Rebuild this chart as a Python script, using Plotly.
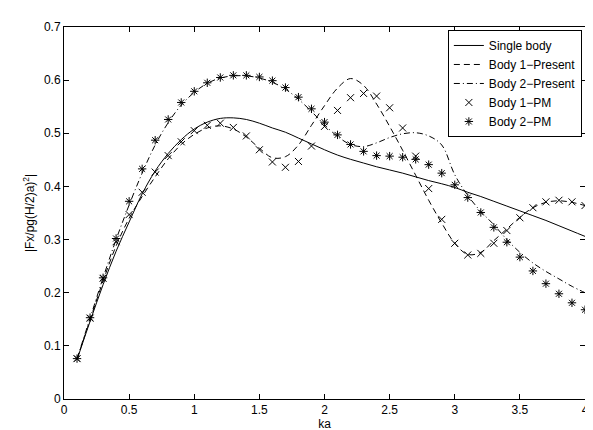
import plotly.graph_objects as go

ka = [0.1, 0.2, 0.3, 0.4, 0.5, 0.6, 0.7, 0.8, 0.9, 1.0,
      1.1, 1.2, 1.3, 1.4, 1.5, 1.6, 1.7, 1.8, 1.9, 2.0,
      2.1, 2.2, 2.3, 2.4, 2.5, 2.6, 2.7, 2.8, 2.9, 3.0,
      3.1, 3.2, 3.3, 3.4, 3.5, 3.6, 3.7, 3.8, 3.9, 4.0]

single_body = [0.074, 0.146, 0.215, 0.278, 0.333, 0.386, 0.429, 0.462, 0.488, 0.508,
               0.521, 0.528, 0.529, 0.526, 0.519, 0.510, 0.502, 0.491, 0.480, 0.469,
               0.459, 0.451, 0.444, 0.437, 0.431, 0.425, 0.418, 0.411, 0.405, 0.398,
               0.389, 0.381, 0.372, 0.363, 0.354, 0.345, 0.336, 0.326, 0.316, 0.306]

body1_present = [0.075, 0.149, 0.222, 0.288, 0.340, 0.381, 0.418, 0.452, 0.479, 0.498,
                 0.510, 0.514, 0.508, 0.493, 0.472, 0.454, 0.456, 0.478, 0.515, 0.552,
                 0.585, 0.603, 0.590, 0.555, 0.513, 0.468, 0.421, 0.374, 0.331, 0.293,
                 0.272, 0.276, 0.298, 0.320, 0.342, 0.360, 0.370, 0.373, 0.370, 0.364]

body2_present = [0.076, 0.152, 0.228, 0.300, 0.365, 0.425, 0.478, 0.520, 0.553, 0.577,
                 0.594, 0.604, 0.608, 0.608, 0.604, 0.596, 0.583, 0.564, 0.541, 0.516,
                 0.494, 0.479, 0.475, 0.482, 0.492, 0.499, 0.501, 0.495, 0.478, 0.422,
                 0.383, 0.353, 0.328, 0.300, 0.276, 0.256, 0.240, 0.226, 0.212, 0.200]

body1_pm = [0.076, 0.152, 0.227, 0.296, 0.347, 0.389, 0.427, 0.458, 0.484, 0.505,
            0.515, 0.519, 0.511, 0.495, 0.469, 0.446, 0.436, 0.447, 0.476, 0.513,
            0.543, 0.567, 0.575, 0.570, 0.548, 0.510, 0.457, 0.396, 0.338, 0.293,
            0.271, 0.274, 0.293, 0.317, 0.341, 0.360, 0.371, 0.374, 0.371, 0.364]

body2_pm = [0.076, 0.153, 0.228, 0.302, 0.372, 0.433, 0.487, 0.526, 0.558, 0.579,
            0.595, 0.605, 0.609, 0.609, 0.606, 0.599, 0.586, 0.568, 0.546, 0.521,
            0.497, 0.479, 0.466, 0.458, 0.457, 0.455, 0.451, 0.441, 0.425, 0.403,
            0.379, 0.351, 0.323, 0.295, 0.267, 0.241, 0.217, 0.198, 0.181, 0.168]

x_ticks = [0, 0.5, 1, 1.5, 2, 2.5, 3, 3.5, 4]
x_tick_labels = ["0", "0.5", "1", "1.5", "2", "2.5", "3", "3.5", "4"]
y_ticks = [0, 0.1, 0.2, 0.3, 0.4, 0.5, 0.6, 0.7]
y_tick_labels = ["0", "0.1", "0.2", "0.3", "0.4", "0.5", "0.6", "0.7"]

FONT = "Liberation Sans, Arial, Helvetica, sans-serif"
FS = 12

fig = go.Figure()
fig.add_trace(go.Scatter(x=ka, y=single_body, mode="lines", name="Single body",
                         line=dict(color="black", width=1, shape="spline")))
fig.add_trace(go.Scatter(x=ka, y=body1_present, mode="lines", name="Body 1\u2212Present",
                         line=dict(color="black", width=1, dash="6px,4px", shape="spline")))
fig.add_trace(go.Scatter(x=ka, y=body2_present, mode="lines", name="Body 2\u2212Present",
                         line=dict(color="black", width=1, dash="6px,3px,1px,3px", shape="spline")))
fig.add_trace(go.Scatter(x=ka, y=body1_pm, mode="markers", name="Body 1\u2212PM",
                         marker=dict(symbol="x-thin-open", size=7, color="black",
                                     line=dict(color="black", width=1))))
fig.add_trace(go.Scatter(x=ka, y=body2_pm, mode="markers", name="Body 2\u2212PM",
                         marker=dict(symbol="asterisk-open", size=7, color="black",
                                     line=dict(color="black", width=1))))

axis_common = dict(showline=True, linecolor="black", linewidth=1, mirror="ticks",
                   ticks="inside", ticklen=5, tickcolor="black", showgrid=False,
                   zeroline=False, tickfont=dict(family=FONT, size=FS, color="black"))

fig.update_xaxes(range=[0, 4], tickvals=x_ticks, ticktext=x_tick_labels,
                 title=dict(text="ka", font=dict(family=FONT, size=FS, color="black"), standoff=0),
                 **axis_common)
fig.update_yaxes(range=[0, 0.7], tickvals=y_ticks, ticktext=y_tick_labels,
                 title=dict(text="|Fx/pg(H/2)a)<sup>2</sup>|", font=dict(family=FONT, size=FS, color="black"),
                            standoff=6),
                 **axis_common)

fig.update_layout(
    width=593, height=430,
    margin=dict(l=56, r=14, t=12, b=36),
    paper_bgcolor="white", plot_bgcolor="white",
    font=dict(family=FONT, size=FS, color="black"),
    showlegend=True,
    legend=dict(x=0.994, y=0.992, xanchor="right", yanchor="top",
                bgcolor="white", bordercolor="black", borderwidth=1,
                font=dict(family=FONT, size=FS, color="black"),
                tracegroupgap=0, itemwidth=30),
)

fig.write_html("out.html")
